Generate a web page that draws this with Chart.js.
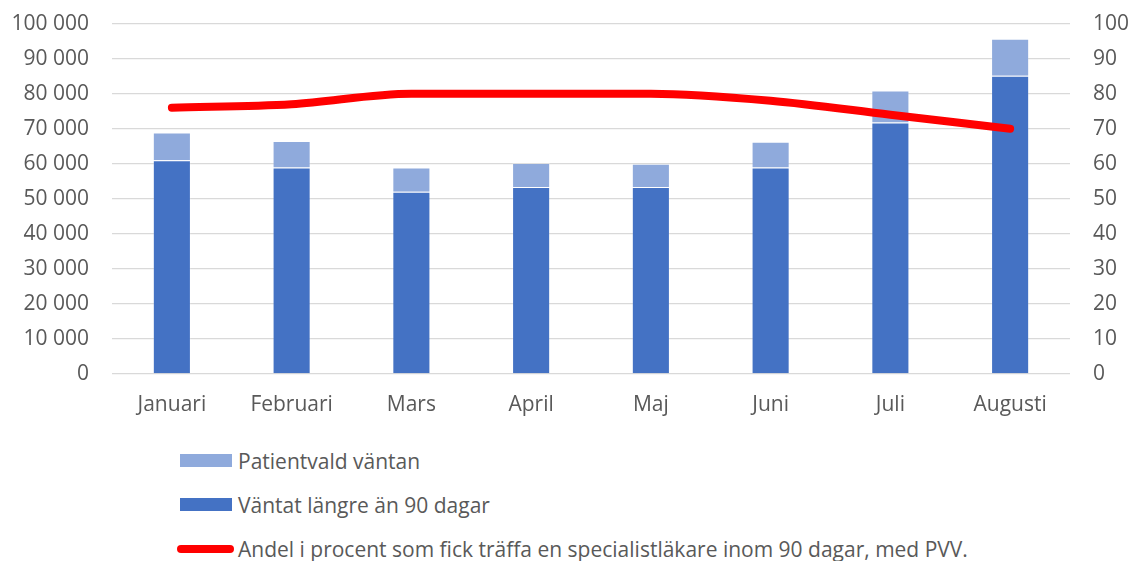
<!DOCTYPE html>
<html>
<head>
<meta charset="utf-8">
<script src="https://cdn.jsdelivr.net/npm/chart.js@4"></script>
<style>
  html, body { margin: 0; padding: 0; background: #fff; }
  body { width: 1132px; height: 561px; position: relative; overflow: hidden; font-family: "Open Sans", sans-serif; }
  #wrap { position: absolute; left: 0; top: -12px; width: 1132px; height: 432px; }
  .lg-text { position: absolute; font-size: 21px; line-height: 28px; color: #595959; white-space: nowrap; }
  .lg-sw { position: absolute; }
</style>
</head>
<body>
<div id="wrap"><canvas id="c"></canvas></div>
<div class="lg-sw" style="left:180px; top:454px; width:52px; height:13px; background:#8FAADC;"></div>
<div class="lg-text" id="l1" style="left:238px; top:447px;"></div>
<div class="lg-sw" style="left:180px; top:498px; width:52px; height:13px; background:#4472C4;"></div>
<div class="lg-text" id="l2" style="left:238px; top:491px;"></div>
<div class="lg-sw" style="left:177px; top:545px; width:57px; height:8px; background:#FF0000; border-radius:4px;"></div>
<div class="lg-text" id="l3" style="left:238px; top:535px;"></div>
<script>
const categories = ["Januari", "Februari", "Mars", "April", "Maj", "Juni", "Juli", "Augusti"];
const seriesNames = [
  "Patientvald väntan",
  "Väntat längre än 90 dagar",
  "Andel i procent som fick träffa en specialistläkare inom 90 dagar, med PVV."
];
const waitedLonger = [61000, 58900, 52000, 53400, 53400, 58900, 71800, 85100];
const patientChosen = [7900, 7600, 6900, 6800, 6600, 7400, 9100, 10600];
const sharePercent = [76, 77, 80, 80, 80, 78, 74, 70];
const leftTicksMax = 100000;
const leftTicksStep = 10000;
const rightTicksMax = 100;
const rightTicksStep = 10;

document.getElementById('l1').textContent = seriesNames[0];
document.getElementById('l2').textContent = seriesNames[1];
document.getElementById('l3').textContent = seriesNames[2];

const fontSpec = { family: '"Open Sans", sans-serif', size: 21 };
const txt = '#595959';
const fmt = v => String(v).replace(/\B(?=(\d{3})+(?!\d))/g, ' ');

new Chart(document.getElementById('c'), {
  type: 'bar',
  data: {
    labels: categories,
    datasets: [
      { type: 'bar', label: seriesNames[1], data: waitedLonger, backgroundColor: '#4472C4',
        borderColor: 'rgba(255,255,255,0.18)', borderWidth: 1, yAxisID: 'y', stack: 's', order: 2 },
      { type: 'bar', label: seriesNames[0], data: patientChosen, backgroundColor: '#8FAADC',
        borderColor: 'rgba(255,255,255,0.18)', borderWidth: 1, yAxisID: 'y', stack: 's', order: 2 },
      { type: 'line', label: seriesNames[2], data: sharePercent, borderColor: '#FF0000',
        backgroundColor: '#FF0000', borderWidth: 8, borderCapStyle: 'round', borderJoinStyle: 'round',
        pointRadius: 0, pointHoverRadius: 0, cubicInterpolationMode: 'monotone', yAxisID: 'y2', order: 0 }
    ]
  },
  options: {
    responsive: true,
    maintainAspectRatio: false,
    animation: false,
    layout: { padding: { top: 12, left: 0, right: 0, bottom: 0 } },
    plugins: { legend: { display: false }, tooltip: { enabled: false } },
    datasets: { bar: { categoryPercentage: 0.318, barPercentage: 1 } },
    scales: {
      x: {
        stacked: true,
        grid: { display: false, drawTicks: false },
        border: { display: false },
        ticks: { color: txt, font: fontSpec, padding: 18, maxRotation: 0 },
        afterFit: s => { s.height = 46; }
      },
      y: {
        position: 'left', stacked: true, min: 0, max: leftTicksMax,
        grid: { color: '#d9d9d9', lineWidth: 1.3, drawTicks: false },
        border: { display: false },
        ticks: { stepSize: leftTicksStep, color: txt, font: fontSpec, padding: 23, callback: v => fmt(v) },
        afterFit: s => { s.width = 112; }
      },
      y2: {
        position: 'right', min: 0, max: rightTicksMax,
        grid: { display: false, drawTicks: false },
        border: { display: false },
        ticks: { stepSize: rightTicksStep, color: txt, font: fontSpec, padding: 23 },
        afterFit: s => { s.width = 62; }
      }
    }
  }
});
</script>
</body>
</html>
